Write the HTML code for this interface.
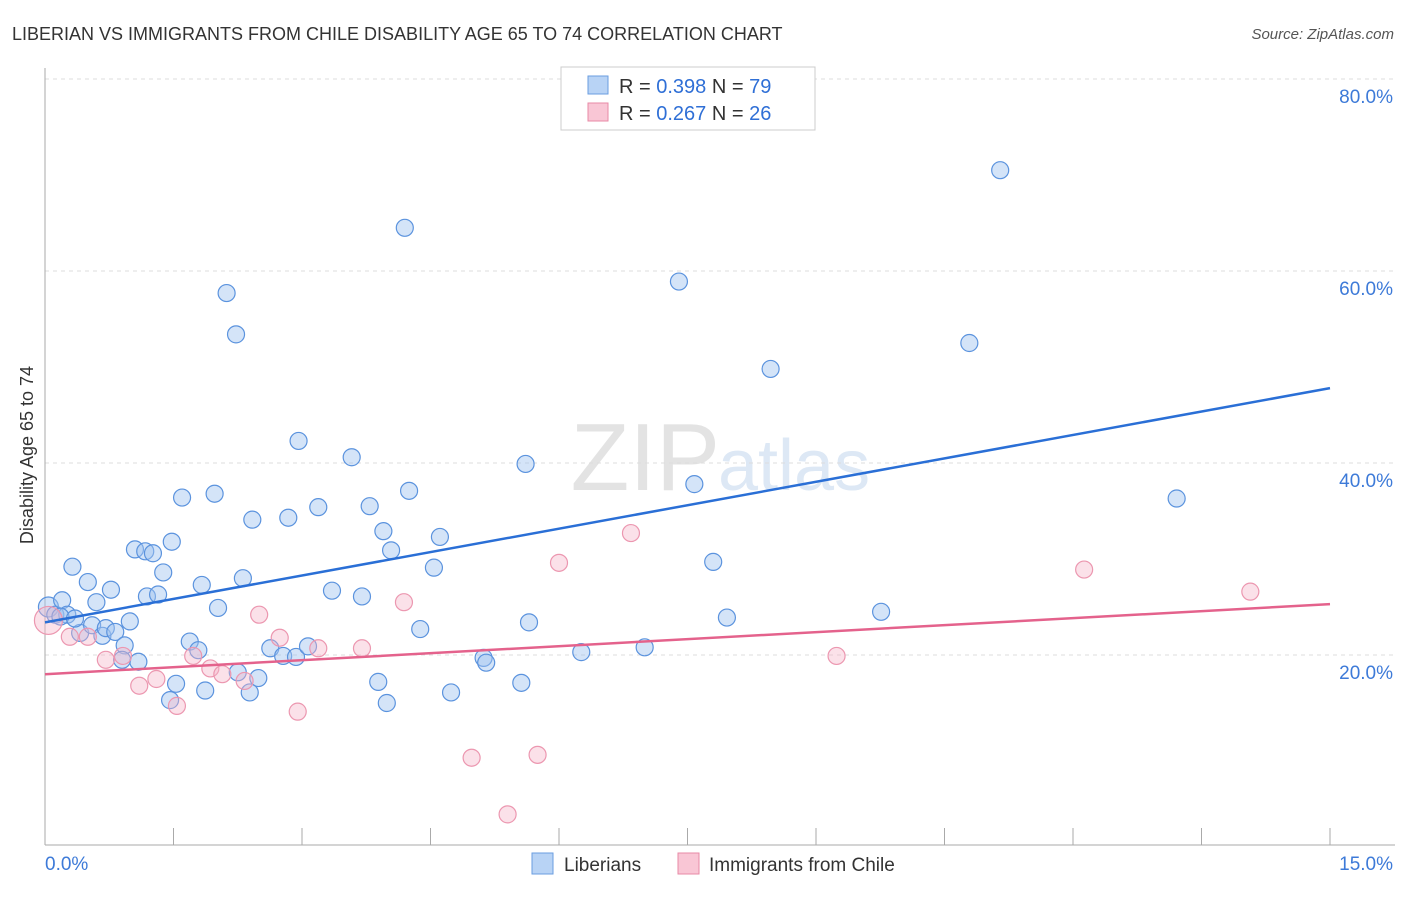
<!DOCTYPE html>
<html><head><meta charset="utf-8"><style>
body{margin:0;background:#fff;font-family:"Liberation Sans",sans-serif}
svg text{font-family:"Liberation Sans",sans-serif}
</style></head><body>
<svg id="c" width="1406" height="892" xmlns="http://www.w3.org/2000/svg">
<text x="12" y="40" font-size="18" fill="#333">LIBERIAN VS IMMIGRANTS FROM CHILE DISABILITY AGE 65 TO 74 CORRELATION CHART</text>
<text x="1394" y="39" font-size="15" fill="#555" font-style="italic" text-anchor="end">Source: ZipAtlas.com</text>
<text x="720" y="490" font-size="96" fill="#e3e3e3" text-anchor="end" font-family="Liberation Serif">ZIP</text>
<text x="718" y="490" font-size="72" fill="#dde8f5">atlas</text>
<text transform="translate(33,455) rotate(-90)" font-size="18" fill="#333" text-anchor="middle">Disability Age 65 to 74</text>
<g id="grid"></g><g id="axes"></g><g id="pts"></g><g id="trend"></g>
<g>
<rect x="561" y="67" width="254" height="63" fill="#fff" stroke="#ccc"/>
<rect x="588" y="76" width="20" height="18" fill="#b8d3f5" stroke="#6a9ee0"/>
<rect x="588" y="103" width="20" height="18" fill="#f9c6d5" stroke="#e88aa6"/>
<text x="619" y="93" font-size="20" fill="#333">R = <tspan fill="#2f6fd6">0.398</tspan>   N = <tspan fill="#2f6fd6">79</tspan></text>
<text x="619" y="120" font-size="20" fill="#333">R = <tspan fill="#2f6fd6">0.267</tspan>   N = <tspan fill="#2f6fd6">26</tspan></text>
</g>
<g>
<rect x="532" y="853" width="21" height="21" fill="#b8d3f5" stroke="#6a9ee0"/>
<text x="564" y="871" font-size="19" fill="#333">Liberians</text>
<rect x="678" y="853" width="21" height="21" fill="#f9c6d5" stroke="#e88aa6"/>
<text x="709" y="871" font-size="19" fill="#333">Immigrants from Chile</text>
</g>
</svg>
<script>
const yTicks=[20,40,60,80];
const xTickLabels=["0.0%","15.0%"];
const blueX=[0.04,0.12,0.20,0.26,0.32,0.50,0.60,0.41,0.55,0.67,0.71,0.77,0.82,0.93,0.90,0.99,1.05,1.09,1.17,1.26,1.19,1.32,1.38,1.48,1.46,1.53,1.60,1.69,1.79,1.83,1.87,1.98,2.02,2.12,2.23,2.25,2.31,2.39,2.42,2.49,2.63,2.78,2.84,2.93,2.96,3.07,3.19,3.35,3.58,3.70,3.79,3.89,3.95,3.99,4.04,4.20,4.25,4.38,4.54,4.61,4.74,5.12,5.15,5.56,5.61,5.65,6.26,7.00,7.40,7.58,7.80,7.96,8.47,9.76,10.79,11.15,13.21,0.18,0.35];
const blueY=[25.0,24.2,25.7,24.2,29.2,27.6,25.5,22.3,23.1,22.0,22.8,26.8,22.4,21.0,19.5,23.5,31.0,19.3,30.8,30.6,26.1,26.3,28.6,31.8,15.3,17.0,36.4,21.4,20.5,27.3,16.3,36.8,24.9,57.7,53.4,18.2,28.0,16.1,34.1,17.6,20.7,19.9,34.3,19.8,42.3,20.9,35.4,26.7,40.6,26.1,35.5,17.2,32.9,15.0,30.9,64.5,37.1,22.7,29.1,32.3,16.1,19.7,19.2,17.1,39.9,23.4,20.3,20.8,58.9,37.8,29.7,23.9,49.8,24.5,52.5,70.5,36.3,24.0,23.8];
const pinkX=[0.04,0.29,0.50,0.71,0.91,1.10,1.30,1.54,1.73,1.93,2.07,2.33,2.50,2.74,2.95,3.19,3.70,4.19,4.98,5.40,5.75,6.00,6.84,9.24,12.13,14.07];
const pinkY=[23.6,21.9,21.9,19.5,19.9,16.8,17.5,14.7,19.9,18.6,18.0,17.3,24.2,21.8,14.1,20.7,20.7,25.5,9.3,3.4,9.6,29.6,32.7,19.9,28.9,26.6];
const blueTrend=[23.4,47.8];
const pinkTrend=[18.0,25.3];
const X=v=>45+v/15*1285, Y=v=>847-v*9.6;
const NS="http://www.w3.org/2000/svg";
function mk(t,a,p){const e=document.createElementNS(NS,t);for(const k in a)e.setAttribute(k,a[k]);p.appendChild(e);return e;}
const grid=document.getElementById('grid'),axes=document.getElementById('axes'),pts=document.getElementById('pts'),tr=document.getElementById('trend');
yTicks.forEach(v=>{
 const l=mk('line',{x1:45,x2:1395,y1:Y(v),y2:Y(v),stroke:'#ddd','stroke-dasharray':'4,4'},grid);
 
 
 const t=mk('text',{x:1393,y:Y(v)+24,'font-size':19,fill:'#3d7ad8','text-anchor':'end'},grid);
 t.textContent=v.toFixed(1)+'%';
 
 
});
mk('line',{x1:45,x2:45,y1:68,y2:845,stroke:'#aaa'},axes);
mk('line',{x1:45,x2:1395,y1:845,y2:845,stroke:'#aaa'},axes);
for(let i=0;i<=10;i++){const tk=mk('line',{x1:X(i*1.5),x2:X(i*1.5),y1:828,y2:845,stroke:'#aaa'},axes);
 
 }
const t0=mk('text',{x:45,y:870,'font-size':19,fill:'#3d7ad8'},axes);t0.textContent=xTickLabels[0];


const t1=mk('text',{x:1393,y:870,'font-size':19,fill:'#3d7ad8','text-anchor':'end'},axes);t1.textContent=xTickLabels[1];


blueX.forEach((x,i)=>{const c=mk('circle',{cx:X(x),cy:Y(blueY[i]),r:i===0?10:8.5,fill:'rgba(160,196,240,0.45)',stroke:'#5b93de','stroke-width':1.2},pts);
 
 });
pinkX.forEach((x,i)=>{const c=mk('circle',{cx:X(x),cy:Y(pinkY[i]),r:i===0?14:8.5,fill:'rgba(246,180,200,0.4)',stroke:'#ec97b0','stroke-width':1.2},pts);
 
 });
const bl=mk('line',{x1:X(0),x2:X(15),y1:Y(blueTrend[0]),y2:Y(blueTrend[1]),stroke:'#2a6fd6','stroke-width':2.5},tr);


const pl=mk('line',{x1:X(0),x2:X(15),y1:Y(pinkTrend[0]),y2:Y(pinkTrend[1]),stroke:'#e4628c','stroke-width':2.5},tr);


</script>
</body></html>
